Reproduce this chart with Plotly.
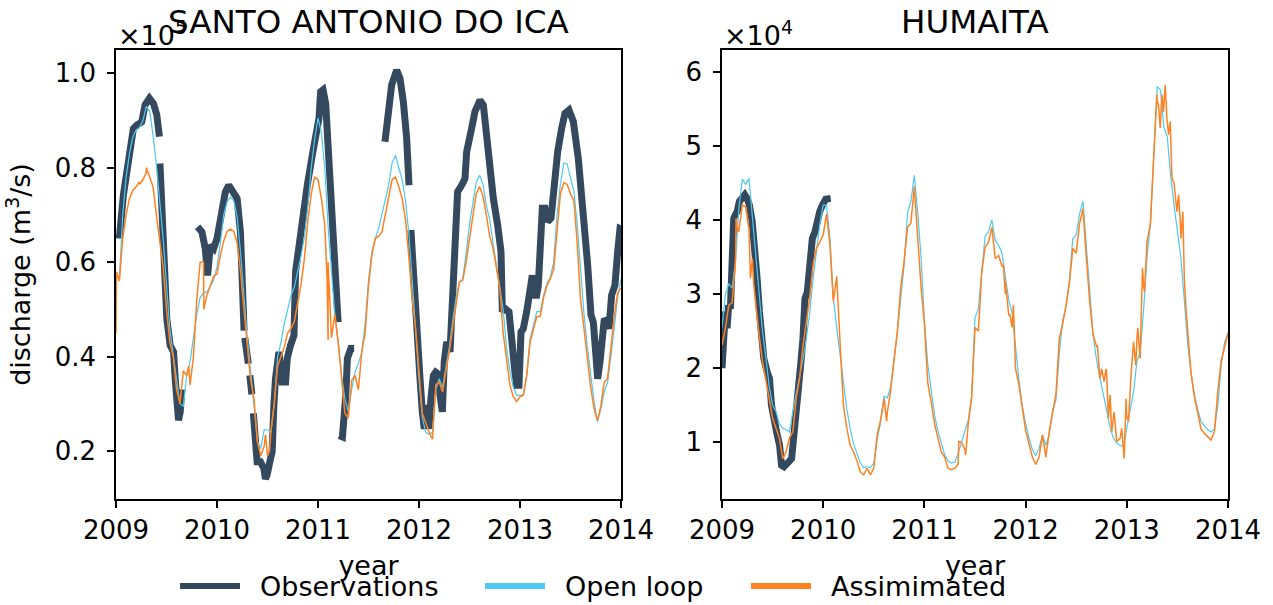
import plotly.graph_objects as go

# ---------------- data ----------------
# Model series sampled every 1/30 year from 2009.0 to 2014.0 (151 samples)
model_years = [2009 + k / 30 for k in range(151)]

# SANTO ANTONIO DO ICA (units of 1e5 m3/s)
sai_open_loop = [
    0.572, 0.565, 0.70, 0.78, 0.83, 0.865, 0.88, 0.885, 0.90, 0.93,
    0.92, 0.869, 0.806, 0.735, 0.65, 0.551, 0.459, 0.403, 0.353, 0.30,
    0.295, 0.36, 0.39, 0.44, 0.49, 0.525, 0.535, 0.537, 0.548, 0.562,
    0.59, 0.64, 0.70, 0.728, 0.738, 0.73, 0.695, 0.62, 0.52, 0.44,
    0.37, 0.29, 0.22, 0.205, 0.245, 0.245, 0.24, 0.30, 0.40, 0.43,
    0.47, 0.50, 0.53, 0.548, 0.58, 0.615, 0.655, 0.72, 0.80, 0.86,
    0.905, 0.875, 0.80, 0.675, 0.58, 0.49, 0.43, 0.36, 0.31, 0.283,
    0.33, 0.367, 0.385, 0.41, 0.47, 0.56, 0.622, 0.65, 0.671, 0.70,
    0.728, 0.763, 0.81, 0.826, 0.80, 0.775, 0.73, 0.66, 0.56, 0.45,
    0.35, 0.27, 0.24, 0.235, 0.24, 0.33, 0.353, 0.335, 0.375, 0.42,
    0.475, 0.525, 0.558, 0.564, 0.62, 0.68, 0.725, 0.77, 0.784, 0.765,
    0.72, 0.69, 0.64, 0.595, 0.55, 0.50, 0.42, 0.37, 0.335, 0.318,
    0.318, 0.32, 0.36, 0.438, 0.466, 0.495, 0.495, 0.53, 0.555, 0.568,
    0.60, 0.70, 0.765, 0.81, 0.808, 0.78, 0.75, 0.68, 0.585, 0.49,
    0.42, 0.36, 0.305, 0.262, 0.288, 0.325, 0.345, 0.40, 0.465, 0.525,
    0.565,
]
sai_assimilated = [
    0.45, 0.56, 0.65, 0.70, 0.735, 0.752, 0.76, 0.765, 0.775, 0.80,
    0.78, 0.76, 0.70, 0.65, 0.59, 0.50, 0.43, 0.40, 0.33, 0.30,
    0.37, 0.36, 0.34, 0.40, 0.52, 0.60, 0.60, 0.53, 0.55, 0.57,
    0.575, 0.615, 0.645, 0.665, 0.67, 0.665, 0.64, 0.58, 0.50, 0.42,
    0.35, 0.31, 0.22, 0.19, 0.21, 0.19, 0.24, 0.30, 0.38, 0.40,
    0.42, 0.45, 0.46, 0.475, 0.515, 0.555, 0.61, 0.69, 0.745, 0.78,
    0.775, 0.735, 0.68, 0.60, 0.44, 0.49, 0.43, 0.35, 0.28, 0.27,
    0.35, 0.36, 0.33, 0.41, 0.45, 0.55, 0.615, 0.65, 0.655, 0.664,
    0.70, 0.735, 0.775, 0.78, 0.76, 0.735, 0.69, 0.61, 0.52, 0.46,
    0.36, 0.28, 0.26, 0.24, 0.225, 0.34, 0.346, 0.325, 0.37, 0.41,
    0.46, 0.51, 0.558, 0.562, 0.60, 0.65, 0.70, 0.745, 0.76, 0.74,
    0.70, 0.655, 0.63, 0.585, 0.545, 0.45, 0.39, 0.34, 0.315, 0.305,
    0.315, 0.318, 0.36, 0.431, 0.459, 0.485, 0.485, 0.525, 0.55, 0.565,
    0.585, 0.67, 0.745, 0.768, 0.765, 0.745, 0.73, 0.64, 0.52, 0.46,
    0.40, 0.335, 0.29, 0.265, 0.295, 0.345, 0.353, 0.42, 0.485, 0.535,
    0.545,
]
# extra short-lived wiggles of the assimilated run (year, value)
sai_assim_extra_years = [2009.005, 2009.230, 2009.300, 2009.720, 2009.870,
                         2010.480, 2010.520, 2011.090, 2011.100]
sai_assim_extra_values = [0.58, 0.77, 0.79, 0.38, 0.50,
                          0.235, 0.20, 0.565, 0.435]

# Observations come in separate (gapped) segments
sai_obs_years = [
    [2009.033, 2009.073, 2009.123, 2009.172, 2009.205, 2009.255, 2009.288,
     2009.331, 2009.371, 2009.404, 2009.430],
    [2009.435, 2009.470, 2009.503, 2009.536, 2009.570, 2009.586, 2009.603,
     2009.619, 2009.636, 2009.652],
    [2009.808, 2009.851, 2009.884, 2009.907, 2009.934, 2009.967, 2010.000,
     2010.033, 2010.083, 2010.116, 2010.166, 2010.199, 2010.232, 2010.248,
     2010.268],
    [2010.275, 2010.310],
    [2010.325, 2010.345],
    [2010.360, 2010.397, 2010.430, 2010.464, 2010.480, 2010.497, 2010.530,
     2010.546, 2010.563, 2010.579, 2010.613, 2010.646, 2010.679, 2010.695,
     2010.728, 2010.762, 2010.778, 2010.811, 2010.844, 2010.894, 2010.944,
     2010.977, 2011.010, 2011.026, 2011.050, 2011.076, 2011.109, 2011.142,
     2011.175, 2011.199],
    [2011.209, 2011.242, 2011.275, 2011.291, 2011.325, 2011.358],
    [2011.663, 2011.696, 2011.729, 2011.779, 2011.812, 2011.845, 2011.878,
     2011.901],
    [2011.920, 2011.944, 2011.977, 2012.010, 2012.033, 2012.052, 2012.076,
     2012.099, 2012.118, 2012.142, 2012.165, 2012.191, 2012.208, 2012.231,
     2012.250, 2012.274, 2012.307, 2012.330, 2012.356, 2012.382, 2012.422,
     2012.455, 2012.472, 2012.495, 2012.521, 2012.554, 2012.604, 2012.637,
     2012.670, 2012.693, 2012.736, 2012.779, 2012.812, 2012.825, 2012.851,
     2012.891, 2012.917, 2012.950, 2012.967, 2012.990, 2013.010, 2013.033,
     2013.066, 2013.092, 2013.122, 2013.142, 2013.165, 2013.181, 2013.198,
     2013.221, 2013.247, 2013.274, 2013.307, 2013.340, 2013.373, 2013.412,
     2013.445, 2013.485, 2013.528, 2013.577, 2013.627, 2013.670, 2013.703,
     2013.726, 2013.749, 2013.769, 2013.792, 2013.815, 2013.835, 2013.858,
     2013.881, 2013.907, 2013.940, 2013.967, 2013.990, 2014.000],
]
sai_obs_values = [
    [0.65, 0.742, 0.813, 0.883, 0.89, 0.897, 0.933, 0.947, 0.936, 0.912, 0.866],
    [0.809, 0.636, 0.48, 0.424, 0.41, 0.353, 0.276, 0.265, 0.283, 0.33],
    [0.675, 0.664, 0.629, 0.572, 0.636, 0.629, 0.65, 0.693, 0.749, 0.763,
     0.749, 0.735, 0.664, 0.565, 0.455],
    [0.44, 0.385],
    [0.36, 0.32],
    [0.28, 0.177, 0.177, 0.163, 0.141, 0.15, 0.184, 0.198, 0.297, 0.353,
     0.41, 0.346, 0.346, 0.396, 0.424, 0.445, 0.58, 0.636, 0.671, 0.763,
     0.827, 0.869, 0.905, 0.961, 0.965, 0.936, 0.813, 0.693, 0.58, 0.473],
    [0.233, 0.23, 0.318, 0.396, 0.417, 0.417],
    [0.855, 0.919, 0.975, 1.007, 0.989, 0.94, 0.862, 0.763],
    [0.668, 0.565, 0.459, 0.353, 0.283, 0.247, 0.297, 0.247, 0.311, 0.36,
     0.367, 0.363, 0.318, 0.283, 0.389, 0.431, 0.41, 0.495, 0.636, 0.749,
     0.763, 0.777, 0.834, 0.869, 0.883, 0.919, 0.943, 0.933, 0.869, 0.792,
     0.735, 0.678, 0.622, 0.495, 0.502, 0.495, 0.424, 0.367, 0.339, 0.339,
     0.452, 0.459, 0.495, 0.544, 0.572, 0.53, 0.53, 0.55, 0.636, 0.714,
     0.714, 0.686, 0.693, 0.777, 0.834, 0.883, 0.915, 0.922, 0.898, 0.82,
     0.707, 0.594, 0.488, 0.473, 0.41, 0.353, 0.389, 0.445, 0.48, 0.475,
     0.459, 0.53, 0.551, 0.622, 0.671, 0.67],
]

# HUMAITA (units of 1e4 m3/s)
hum_open_loop = [
    2.55, 2.99, 3.14, 3.08, 3.44, 4.15, 4.55, 4.48, 4.56, 4.05,
    3.50, 2.95, 2.50, 2.15, 1.75, 1.50, 1.42, 1.25, 1.19, 1.17,
    1.14, 1.42, 1.65, 1.88, 2.12, 2.40, 2.75, 3.20, 3.62, 3.95,
    4.20, 4.20, 3.75, 2.95, 2.55, 2.20, 1.80, 1.45, 1.18, 0.98,
    0.85, 0.72, 0.66, 0.67, 0.66, 0.72, 1.04, 1.26, 1.62, 1.60,
    1.75, 2.10, 2.50, 2.95, 3.40, 4.10, 4.25, 4.60, 4.11, 3.50,
    2.65, 2.05, 1.68, 1.37, 1.15, 0.97, 0.83, 0.75, 0.72, 0.73,
    0.85, 1.00, 1.15, 1.30, 1.62, 2.68, 2.80, 3.25, 3.78, 3.84,
    4.00, 3.72, 3.66, 3.55, 3.25, 2.92, 2.75, 2.30, 1.85, 1.50,
    1.25, 1.06, 0.90, 0.82, 0.92, 1.10, 0.96, 1.10, 1.43, 1.57,
    2.20, 2.65, 2.83, 3.20, 3.75, 3.80, 4.08, 4.25, 3.70, 3.05,
    2.45, 2.12, 1.88, 1.66, 1.43, 1.21, 1.06, 0.99, 0.96, 0.94,
    1.19, 1.46, 1.68, 2.09, 2.22, 2.80, 3.50, 3.95, 4.90, 5.80,
    5.75, 5.25, 5.12, 4.60, 4.20, 3.85, 3.50, 2.95, 2.35, 1.95,
    1.65, 1.45, 1.28, 1.22, 1.17, 1.14, 1.18, 1.50, 2.05, 2.35,
    2.48,
]
hum_assimilated = [
    2.31, 2.54, 2.85, 2.88, 3.45, 3.85, 4.20, 4.18, 3.90, 3.48,
    2.85, 2.45, 2.09, 1.86, 1.59, 1.32, 1.19, 1.06, 0.78, 0.87,
    1.06, 1.14, 1.59, 1.86, 2.30, 2.65, 2.95, 3.40, 3.62, 3.70,
    3.80, 4.08, 3.66, 2.90, 3.24, 2.35, 1.50, 1.19, 0.96, 0.87,
    0.75, 0.60, 0.56, 0.65, 0.56, 0.65, 1.10, 1.30, 1.55, 1.40,
    1.70, 2.10, 2.50, 3.10, 3.45, 3.90, 3.96, 4.45, 3.80, 3.10,
    2.60, 1.80, 1.55, 1.25, 1.06, 0.87, 0.80, 0.65, 0.63, 0.65,
    0.70, 1.00, 0.90, 1.25, 1.60, 2.55, 2.50, 3.30, 3.63, 3.70,
    3.90, 3.48, 3.52, 3.38, 3.00, 2.72, 2.55, 2.00, 1.78, 1.45,
    1.16, 0.98, 0.80, 0.70, 0.80, 1.10, 0.80, 1.14, 1.40, 1.65,
    2.40, 2.60, 2.85, 3.15, 3.62, 3.55, 3.95, 4.15, 3.50, 2.90,
    2.45, 2.30, 1.86, 1.90, 1.95, 1.60, 1.35, 1.01, 1.05, 0.85,
    1.35, 1.80, 2.36, 2.40, 2.13, 3.10, 3.70, 3.95, 4.85, 5.60,
    5.30, 5.55, 5.30, 5.00, 4.50, 4.20, 3.85, 3.50, 2.50, 1.95,
    1.62, 1.38, 1.18, 1.12, 1.08, 1.03, 1.15, 1.70, 2.10, 2.28,
    2.47,
]
# extra short-lived wiggles of the assimilated run (year, value)
hum_assim_extra_years = [
    2009.139, 2009.159, 2009.264, 2009.281, 2009.298, 2009.314,
    2010.603, 2010.626, 2011.340, 2011.407,
    2011.780, 2011.800, 2011.845, 2011.880,
    2012.710, 2012.729, 2012.752, 2012.776, 2012.795, 2012.818, 2012.835,
    2012.851, 2012.875, 2012.901, 2012.927, 2012.950, 2012.974, 2012.993,
    2013.017, 2013.040, 2013.066, 2013.089, 2013.109, 2013.132, 2013.155,
    2013.175, 2013.198, 2013.297, 2013.314, 2013.330, 2013.347, 2013.363,
    2013.380, 2013.396, 2013.413, 2013.429, 2013.446, 2013.469, 2013.495,
    2013.512, 2013.535, 2013.554, 2013.568, 2013.587,
]
hum_assim_extra_values = [
    4.02, 3.84, 3.89, 3.21, 3.48, 3.12,
    1.59, 1.28, 1.01, 0.83,
    3.39, 3.17, 2.72, 2.85,
    2.31, 1.86, 1.99, 1.82, 1.99, 1.32, 1.64,
    1.14, 1.41, 1.01, 1.05, 1.19, 0.78, 1.59,
    1.28, 1.86, 2.36, 2.04, 2.54, 2.13, 3.35,
    3.03, 3.66, 5.69, 5.55, 5.24, 5.69, 5.46,
    5.82, 5.37, 5.15, 5.33, 4.56, 4.47, 4.11,
    4.34, 3.75, 4.11, 3.21, 2.76,
]
hum_obs_years = [
    2009.000, 2009.017, 2009.033, 2009.050, 2009.066, 2009.083, 2009.099,
    2009.116, 2009.132, 2009.149, 2009.172, 2009.198, 2009.225, 2009.248,
    2009.271, 2009.298, 2009.324, 2009.347, 2009.370, 2009.390, 2009.413,
    2009.446, 2009.469, 2009.489, 2009.512, 2009.545, 2009.569, 2009.588,
    2009.612, 2009.635, 2009.661, 2009.688, 2009.711, 2009.734, 2009.754,
    2009.777, 2009.800, 2009.820, 2009.843, 2009.866, 2009.893, 2009.919,
    2009.942, 2009.965, 2009.992, 2010.025, 2010.074,
]
hum_obs_values = [
    2.0, 2.40, 2.76, 2.54, 2.85, 2.80, 3.66, 4.02, 4.07, 4.11,
    4.25, 4.31, 4.34, 4.29, 4.2, 3.98, 3.66, 3.21, 2.76, 2.31,
    2.13, 1.95, 1.86, 1.50, 1.28, 1.10, 0.96, 0.69, 0.67, 0.69,
    0.74, 0.78, 1.06, 1.32, 1.64, 2.04, 2.40, 2.94, 3.03, 3.48,
    3.75, 3.84, 4.02, 4.11, 4.2, 4.28, 4.29,
]

station_titles = ["SANTO ANTONIO DO ICA", "HUMAITA"]
series_names = ["Observations", "Open loop", "Assimimated"]
series_colors = ["#34495e", "#4ec9ef", "#ff8122"]
year_ticks = [2009, 2010, 2011, 2012, 2013, 2014]
sai_ticks = [0.2, 0.4, 0.6, 0.8, 1.0]
hum_ticks = [1, 2, 3, 4, 5, 6]

assert len(sai_open_loop) == len(model_years) == len(sai_assimilated)
assert len(hum_open_loop) == len(model_years) == len(hum_assimilated)
assert len(hum_obs_years) == len(hum_obs_values)
assert len(hum_assim_extra_years) == len(hum_assim_extra_values)
assert len(sai_assim_extra_years) == len(sai_assim_extra_values)
for a, b in zip(sai_obs_years, sai_obs_values):
    assert len(a) == len(b)

# join observation segments with gaps
obs_x, obs_y = [], []
for xs, ys in zip(sai_obs_years, sai_obs_values):
    if obs_x:
        obs_x.append(None)
        obs_y.append(None)
    obs_x.extend(xs)
    obs_y.extend(ys)


def merged(base_x, base_y, ex_x, ex_y):
    pts = sorted(zip(list(base_x) + list(ex_x), list(base_y) + list(ex_y)))
    return [p[0] for p in pts], [p[1] for p in pts]


sai_asm_x, sai_asm_y = merged(model_years, sai_assimilated,
                              sai_assim_extra_years, sai_assim_extra_values)
hum_asm_x, hum_asm_y = merged(model_years, hum_assimilated,
                              hum_assim_extra_years, hum_assim_extra_values)

# ---------------- figure ----------------
W, H = 1273, 605
FONT = "DejaVu Sans"
fig = go.Figure()


def add_panel(xa, ya, ox, oy, ol, ax_, ay_):
    fig.add_trace(go.Scatter(x=ox, y=oy, mode="lines", name=series_names[0],
                             line=dict(color=series_colors[0], width=7),
                             xaxis=xa, yaxis=ya, showlegend=False, hoverinfo="skip"))
    fig.add_trace(go.Scatter(x=model_years, y=ol, mode="lines", name=series_names[1],
                             line=dict(color=series_colors[1], width=1.2),
                             xaxis=xa, yaxis=ya, showlegend=False, hoverinfo="skip"))
    fig.add_trace(go.Scatter(x=ax_, y=ay_, mode="lines", name=series_names[2],
                             line=dict(color=series_colors[2], width=1.5),
                             xaxis=xa, yaxis=ya, showlegend=False, hoverinfo="skip"))


add_panel("x", "y", obs_x, obs_y, sai_open_loop, sai_asm_x, sai_asm_y)
add_panel("x2", "y2", hum_obs_years, hum_obs_values, hum_open_loop, hum_asm_x, hum_asm_y)

ydom = [1 - 499 / H, 1 - 50 / H]
common_axis = dict(showline=True, linewidth=1.6, linecolor="black", mirror=True,
                   ticks="outside", ticklen=7, tickwidth=1.6, tickcolor="black",
                   showgrid=False, zeroline=False, automargin=False,
                   tickfont=dict(family=FONT, size=26, color="black"))

xcommon = dict(common_axis, range=[2009, 2014], tickvals=year_ticks,
               ticktext=[str(y) for y in year_ticks])
fig.update_layout(
    width=W, height=H,
    margin=dict(l=0, r=0, t=0, b=0),
    paper_bgcolor="white", plot_bgcolor="white",
    font=dict(family=FONT, size=26, color="black"),
    showlegend=False,
    xaxis=dict(xcommon, domain=[116 / W, 621 / W], anchor="y",
               title=dict(text="year", standoff=12, font=dict(family=FONT, size=27))),
    xaxis2=dict(xcommon, domain=[722 / W, 1228 / W], anchor="y2",
                title=dict(text="year", standoff=12, font=dict(family=FONT, size=27))),
    yaxis=dict(common_axis, domain=ydom, anchor="x", range=[0.0983, 1.0494],
               tickvals=sai_ticks, ticktext=[f"{v:.1f}" for v in sai_ticks],
               ticklabelstandoff=6,
               title=dict(text="discharge (m<sup>3</sup>/s)", standoff=16,
                          font=dict(family=FONT, size=27))),
    yaxis2=dict(common_axis, domain=ydom, anchor="x2", range=[0.235, 6.292],
                tickvals=hum_ticks, ticktext=[str(v) for v in hum_ticks],
                ticklabelstandoff=6),
)

annotations = []
# panel titles
for title, (a, b) in zip(station_titles, [(116, 621), (722, 1228)]):
    annotations.append(dict(text=title, x=(a + b) / 2 / W, y=1 - 22 / H,
                            xref="paper", yref="paper", showarrow=False,
                            xanchor="center", yanchor="middle",
                            font=dict(family=FONT, size=32.5, color="black")))
# offset (multiplier) texts
for txt, x0 in [("×10<sup>5</sup>", 116), ("×10<sup>4</sup>", 722)]:
    annotations.append(dict(text=txt, x=x0 / W, y=1 - 33 / H, xref="paper", yref="paper",
                            showarrow=False, xanchor="left", yanchor="middle",
                            font=dict(family=FONT, size=27, color="black")))
# manual legend below the panels
legend_x = [180, 485, 751]
shapes = []
for name, color, lx in zip(series_names, series_colors, legend_x):
    shapes.append(dict(type="line", xref="paper", yref="paper",
                       x0=lx / W, x1=(lx + 60) / W, y0=1 - 586 / H, y1=1 - 586 / H,
                       line=dict(color=color, width=6)))
    annotations.append(dict(text=name, x=(lx + 78) / W, y=1 - 586 / H,
                            xref="paper", yref="paper", showarrow=False,
                            xanchor="left", yanchor="middle",
                            font=dict(family=FONT, size=27, color="black")))
fig.update_layout(annotations=annotations, shapes=shapes)

fig.write_html("out.html")
